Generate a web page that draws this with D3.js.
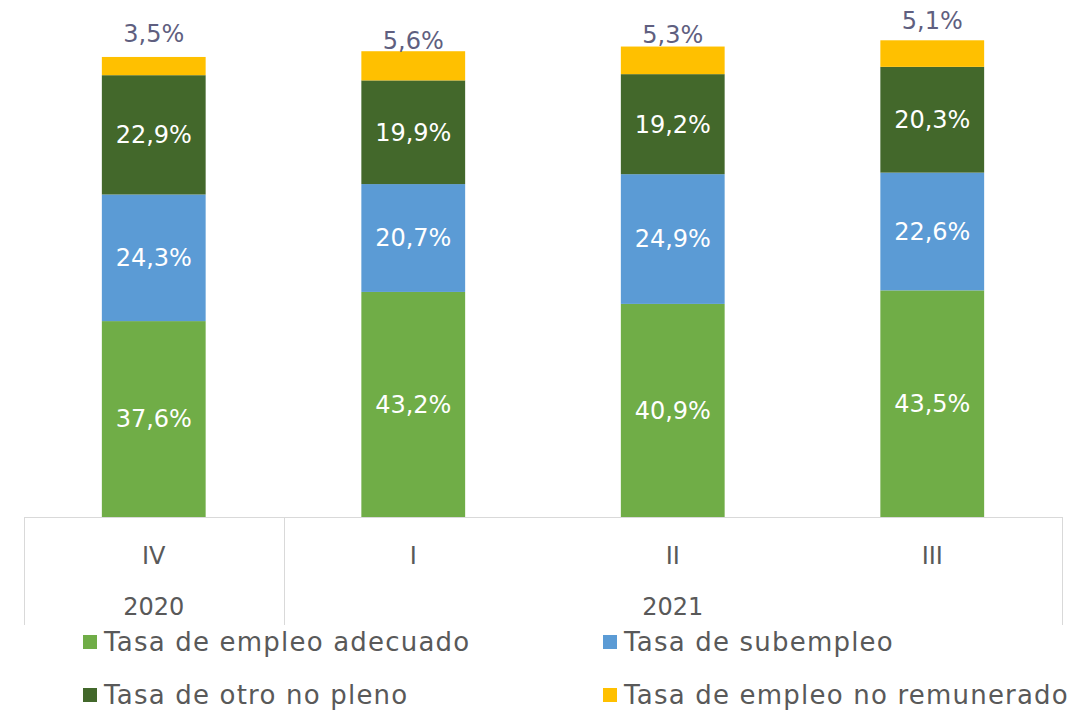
<!DOCTYPE html>
<html>
<head>
<meta charset="utf-8">
<script src="https://cdn.jsdelivr.net/npm/d3@7"></script>
<style>
  body { margin: 0; background: #fff; }
  text { font-family: "DejaVu Sans", sans-serif; }
</style>
</head>
<body>
<div class="chart"></div>
<script>
var quarters = ['IV', 'I', 'II', 'III'];
var years = [{label: '2020', from: 0, to: 0}, {label: '2021', from: 1, to: 3}];
var seriesNames = ['Tasa de empleo adecuado', 'Tasa de subempleo', 'Tasa de otro no pleno', 'Tasa de empleo no remunerado'];
var adecuado = [37.6, 43.2, 40.9, 43.5];
var subempleo = [24.3, 20.7, 24.9, 22.6];
var otroNoPleno = [22.9, 19.9, 19.2, 20.3];
var noRemunerado = [3.5, 5.6, 5.3, 5.1];
var colors = ['#70ad47', '#5b9bd5', '#43682b', '#ffc000'];
// labels above the bars were nudged by hand in the original
var topLabelGap = [23, 11, 12, 20];

var width = 1092, height = 711;
var margin = {top: 0, left: 24, right: 30, baseline: 517};

var svg = d3.select('.chart')
  .append('svg')
    .attr('width', width)
    .attr('height', height);

var table = quarters.map((q, i) => ({
  q: q,
  s0: adecuado[i], s1: subempleo[i], s2: otroNoPleno[i], s3: noRemunerado[i]
}));
var stack = d3.stack().keys(['s0', 's1', 's2', 's3'])(table);

var xScale = d3.scaleBand()
  .domain(quarters)
  .range([margin.left, width - margin.right])
  .paddingInner(0.6)
  .paddingOuter(0.3);

var yScale = d3.scaleLinear()
  .domain([0, 100])
  .range([margin.baseline, margin.baseline - 521]);

var groups = svg.selectAll('g.series')
  .data(stack)
  .enter()
  .append('g')
    .attr('fill', (d, i) => colors[i]);

groups.selectAll('rect')
  .data(d => d)
  .enter()
  .append('rect')
    .attr('x', d => xScale(d.data.q))
    .attr('y', d => yScale(d[1]))
    .attr('width', xScale.bandwidth())
    .attr('height', d => yScale(d[0]) - yScale(d[1]));

groups.each(function(s, si) {
  d3.select(this).selectAll('text')
    .data(s)
    .enter()
    .append('text')
      .attr('x', d => xScale(d.data.q) + xScale.bandwidth() / 2)
      .attr('y', (d, i) => si === 3 ? yScale(d[1]) - topLabelGap[i] : yScale((d[0] + d[1]) / 2))
      .attr('dy', '0.35em')
      .attr('text-anchor', 'middle')
      .attr('font-size', 24)
      .attr('fill', si === 3 ? '#5f5f80' : '#fff')
      .text(d => (d[1] - d[0]).toFixed(1).replace('.', ',') + '%');
});

// axis with two-level categories
var axisColor = '#d9d9d9';
var step = xScale.step();
var x0 = margin.left, x1 = width - margin.right;
var axis = svg.append('g');
axis.append('line')
  .attr('x1', x0).attr('x2', x1)
  .attr('y1', margin.baseline + 0.5).attr('y2', margin.baseline + 0.5)
  .attr('stroke', axisColor);
var bounds = [x0, x0 + step, x1];
axis.selectAll('line.sep')
  .data(bounds)
  .enter()
  .append('line')
    .attr('x1', d => Math.round(d) + 0.5).attr('x2', d => Math.round(d) + 0.5)
    .attr('y1', margin.baseline).attr('y2', 625)
    .attr('stroke', axisColor);

axis.selectAll('text.q')
  .data(quarters)
  .enter()
  .append('text')
    .attr('x', d => xScale(d) + xScale.bandwidth() / 2)
    .attr('y', 556)
    .attr('dy', '0.35em')
    .attr('text-anchor', 'middle')
    .attr('font-size', 24)
    .attr('fill', '#595959')
    .text(d => d);

axis.selectAll('text.y')
  .data(years)
  .enter()
  .append('text')
    .attr('x', d => (xScale(quarters[d.from]) + xScale(quarters[d.to]) + xScale.bandwidth()) / 2)
    .attr('y', 607)
    .attr('dy', '0.35em')
    .attr('text-anchor', 'middle')
    .attr('font-size', 24)
    .attr('fill', '#595959')
    .text(d => d.label);

// legend
var legendPos = [[83, 642], [603, 642], [83, 695], [603, 695]];
var legend = svg.selectAll('g.legend')
  .data(seriesNames)
  .enter()
  .append('g')
    .attr('transform', (d, i) => `translate(${legendPos[i][0]}, ${legendPos[i][1]})`);
legend.append('rect')
  .attr('x', 0).attr('y', -7)
  .attr('width', 14).attr('height', 14)
  .attr('fill', (d, i) => colors[i]);
legend.append('text')
  .attr('x', 21)
  .attr('dy', '0.35em')
  .attr('font-size', 26)
  .attr('letter-spacing', 1.2)
  .attr('fill', '#595959')
  .text(d => d);
</script>
</body>
</html>
